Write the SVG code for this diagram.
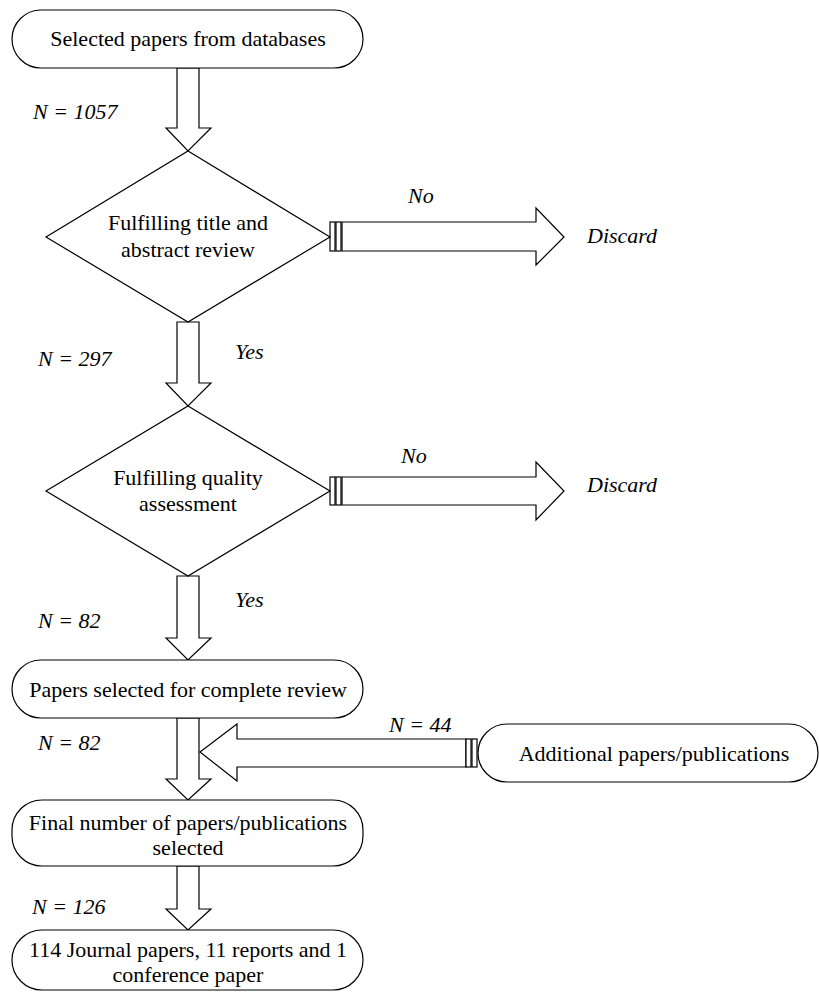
<svg xmlns="http://www.w3.org/2000/svg" width="819" height="992" viewBox="0 0 819 992">
<style>
.n{fill:#fff;stroke:#000;stroke-width:1.2}
.a{fill:#fff;stroke:#000;stroke-width:1.2;stroke-linejoin:miter}
.t{font-family:"Liberation Serif","Times New Roman",serif;font-size:22px;fill:#000;text-anchor:middle}
.l{font-family:"Liberation Serif","Times New Roman",serif;font-size:22px;font-style:italic;fill:#000}
</style>
<rect width="819" height="992" fill="#fff"/>
<g id="connectors">
<polygon class="a" points="177,68 199,68 199,128 211,128 188,151 166,128 177,128"/>
<polygon class="a" points="177,322 199,322 199,383 211,383 188,406 166,383 177,383"/>
<polygon class="a" points="177,576 199,576 199,638 211,638 188,660 166,638 177,638"/>
<polygon class="a" points="177,718 199,718 199,779 211,779 188,800 166,779 177,779"/>
<polygon class="a" points="177,866 199,866 199,909 211,909 188,930 166,909 177,909"/>
<rect class="a" x="330" y="222" width="5" height="29"/>
<rect class="a" x="336" y="222" width="5" height="29"/>
<polygon class="a" points="342,222 536,222 536,208 564,237 536,265 536,251 342,251"/>
<rect class="a" x="330" y="477" width="5" height="28"/>
<rect class="a" x="336" y="477" width="5" height="28"/>
<polygon class="a" points="342,477 536,477 536,462 564,491 536,520 536,505 342,505"/>
<polygon class="a" points="466,739 237,739 237,724 200,752 237,781 237,767 466,767"/>
<rect class="a" x="466" y="739" width="5" height="28"/>
<rect class="a" x="472" y="739" width="5" height="28"/>
<text class="l" x="33" y="119">N = 1057</text>
<text class="l" x="408" y="203">No</text>
<text class="l" x="587" y="243">Discard</text>
<text class="l" x="38" y="366">N = 297</text>
<text class="l" x="235" y="359">Yes</text>
<text class="l" x="401" y="463">No</text>
<text class="l" x="587" y="492">Discard</text>
<text class="l" x="235" y="607">Yes</text>
<text class="l" x="38" y="628">N = 82</text>
<text class="l" x="389" y="732">N = 44</text>
<text class="l" x="38" y="750">N = 82</text>
<text class="l" x="32" y="914">N = 126</text>
</g>
<g id="start">
<rect class="n" x="12" y="10" width="351" height="58" rx="29"/>
<text class="t" x="188" y="46">Selected papers from databases</text>
</g>
<g id="decision1">
<polygon class="n" points="188,151 330,237 188,322 46,237"/>
<text class="t" x="188" y="230">Fulfilling title and</text>
<text class="t" x="188" y="257">abstract review</text>
</g>
<g id="decision2">
<polygon class="n" points="188,406 330,491 188,576 46,491"/>
<text class="t" x="188" y="485">Fulfilling quality</text>
<text class="t" x="188" y="511">assessment</text>
</g>
<g id="complete-review">
<rect class="n" x="12" y="660" width="351" height="58" rx="29"/>
<text class="t" x="188" y="697">Papers selected for complete review</text>
</g>
<g id="additional">
<rect class="n" x="478" y="724" width="340" height="58" rx="29"/>
<text class="t" x="654" y="761">Additional papers/publications</text>
</g>
<g id="final">
<rect class="n" x="12" y="800" width="351" height="66" rx="30"/>
<text class="t" x="188" y="830">Final number of papers/publications</text>
<text class="t" x="188" y="855">selected</text>
</g>
<g id="result">
<rect class="n" x="12" y="930" width="351" height="60" rx="30"/>
<text class="t" x="188" y="957">114 Journal papers, 11 reports and 1</text>
<text class="t" x="188" y="982">conference paper</text>
</g>
</svg>
